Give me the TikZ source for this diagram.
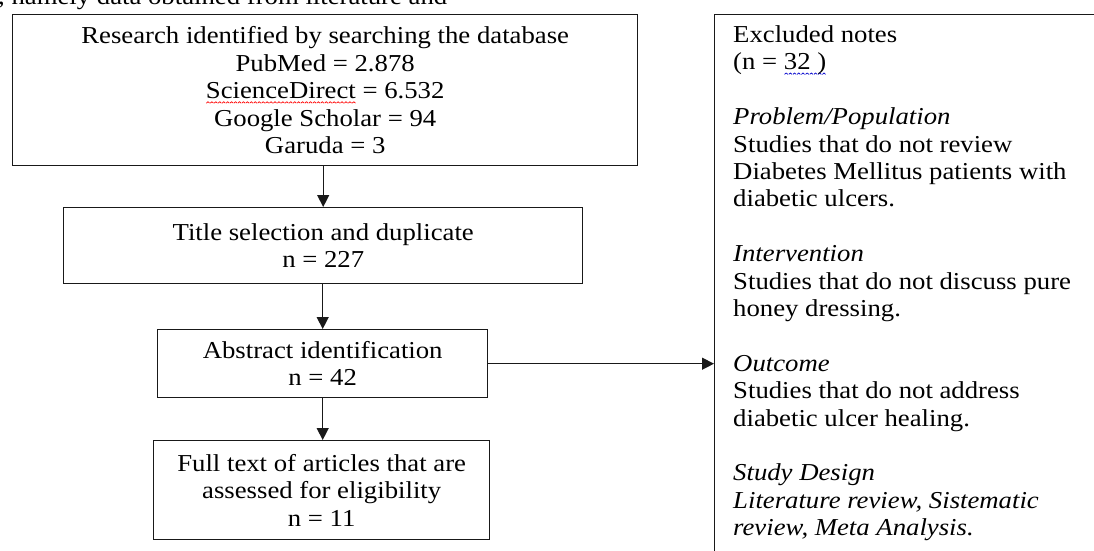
\documentclass[tikz,border=0pt]{standalone}
\usepackage{fontspec}
\setmainfont{Liberation Serif}[FakeStretch=1.1]
\usetikzlibrary{arrows.meta}
\newsavebox\wavebox
\newcommand\wavepiece[1]{\hbox{\tikz[x=1pt,y=1pt,baseline=0pt]\draw[#1,line width=0.7pt] (0,0) -- (1.6,1.4) -- (3.2,0);}}
\newcommand\squig[2]{\sbox\wavebox{#2}\rlap{\lower4.5pt\hbox to \wd\wavebox{\xleaders\wavepiece{#1}\hfill}}\usebox\wavebox}
\begin{document}
\begin{tikzpicture}[x=1pt,y=-1pt,
  font=\fontsize{24.3}{27.4}\selectfont,
  box/.style={draw=black!90, line width=1.4pt, inner sep=0pt, align=center, anchor=north west},
  arr/.style={draw=black!90, line width=1.3pt, -{Triangle[length=12pt,width=12pt]}}]
\useasboundingbox (0,0) rectangle (1094,551);
\clip (0,0) rectangle (1094,551);

\node[anchor=base west, inner sep=0pt] (top) at (-2,5) {, namely data obtained from literature and};

\node[box, minimum width=625pt, minimum height=151pt] (b1) at (12,14)
  {Research identified by searching the database\\PubMed = 2.878\\\squig{red}{ScienceDirect} = 6.532\\Google Scholar = 94\\Garuda = 3};
\node[box, minimum width=519pt, minimum height=76pt] (b2) at (63,207)
  {Title selection and duplicate\\n = 227};
\node[box, minimum width=330pt, minimum height=68pt] (b3) at (157,329)
  {Abstract identification\\n = 42};
\node[box, minimum width=336pt, minimum height=99pt] (b4) at (153,440)
  {Full text of articles that are\\assessed for eligibility\\n = 11};
\node[draw=black!90, line width=1.4pt, anchor=north west, inner sep=0pt,
  minimum width=420pt, minimum height=560pt] (ex) at (714,14) {};
\node[anchor=north west, align=left, inner sep=0pt] (ext) at (733,25.4)
  {Excluded notes\\(n = \squig{blue!80!black}{32 )}\\[27.4pt]
   \textit{Problem/Population}\\Studies that do not review\\Diabetes Mellitus patients with\\diabetic ulcers.\\[27.4pt]
   \textit{Intervention}\\Studies that do not discuss pure\\honey dressing.\\[27.4pt]
   \textit{Outcome}\\Studies that do not address\\diabetic ulcer healing.\\[27.4pt]
   \textit{Study Design}\\\textit{Literature review, Sistematic}\\\textit{review, Meta Analysis.}};

\draw[arr] (b1.south -| b2.north) -- (b2.north);
\draw[arr] (b2.south -| b3.north) -- (b3.north);
\draw[arr] (b3.south) -- (b3.south |- b4.north);
\draw[arr] (b3.east) -- (b3.east -| ex.west);
\end{tikzpicture}
\end{document}
